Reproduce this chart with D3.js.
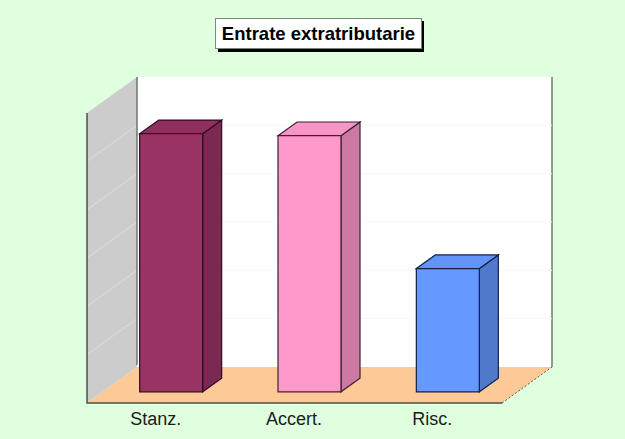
<!DOCTYPE html>
<html>
<head>
    <title>Entrate extratributarie</title>
    <script src="https://cdn.jsdelivr.net/npm/d3@7"></script>
    <style type="text/css">
        html, body { margin: 0; padding: 0; background: #dfffdf; }
        svg { display: block; }
    </style>
</head>
<body>
<div id="chart"></div>
<script type="text/javascript">
    var title = "Entrate extratributarie";
    var categories = ["Stanz.", "Accert.", "Risc."];
    var values = [53.4, 53.0, 25.5];
    var fronts = ["#993366", "#ff99cc", "#6699ff"];
    var sides = ["#7a2952", "#cc7aa3", "#527acc"];
    var tops = ["#8f2f5f", "#f795c6", "#6294f7"];
    var edges = ["#2e0c1e", "#3a2030", "#141f4d"];
    var gridTicks = [10, 20, 30, 40, 50];

    var width = 625, height = 439;
    var left = 87, right = 502, floorY = 403, topY = 113;
    var depthX = 50, depthY = -36;//wall offset
    var barWidth = 63, barNear = 0.31, barDepth = 0.38;//fractions of the floor depth

    var svg = d3.select('#chart').append('svg')
        .attr('width', width)
        .attr('height', height);

    var x = d3.scaleBand().domain(categories).range([left, right]);
    var y = d3.scaleLinear().domain([0, 60]).range([floorY, topY]);

    var path = function(pts) { return d3.line()(pts) + "Z"; };

    //back wall
    svg.append('path')
        .attr('d', path([[left + depthX, topY + depthY], [right + depthX, topY + depthY],
            [right + depthX, floorY + depthY], [left + depthX, floorY + depthY]]))
        .attr('fill', '#fff');
    svg.append('line')
        .attr('x1', right + depthX).attr('x2', right + depthX)
        .attr('y1', topY + depthY).attr('y2', floorY + depthY)
        .attr('stroke', '#5c665c').attr('stroke-width', 1.3);

    //left wall
    svg.append('path')
        .attr('d', path([[left, topY], [left + depthX, topY + depthY], [left + depthX, floorY + depthY], [left, floorY]]))
        .attr('fill', '#cccccc');

    //floor
    svg.append('path')
        .attr('d', path([[left, floorY], [left + depthX, floorY + depthY], [right + depthX, floorY + depthY], [right, floorY]]))
        .attr('fill', '#fcc997');

    //gridlines
    svg.selectAll('.grid-side').data(gridTicks).enter().append('line')
        .attr('class', 'grid-side')
        .attr('x1', left).attr('x2', left + depthX)
        .attr('y1', function(d) { return y(d); })
        .attr('y2', function(d) { return y(d) + depthY; })
        .attr('stroke', '#dedede').attr('stroke-width', 1);
    svg.selectAll('.grid-back').data(gridTicks).enter().append('line')
        .attr('class', 'grid-back')
        .attr('x1', left + depthX).attr('x2', right + depthX)
        .attr('y1', function(d) { return y(d) + depthY; })
        .attr('y2', function(d) { return y(d) + depthY; })
        .attr('stroke', '#fafafa').attr('stroke-width', 1);

    //axis frame
    svg.append('line').attr('x1', left + depthX).attr('x2', left + depthX)
        .attr('y1', topY + depthY).attr('y2', floorY + depthY - 2)
        .attr('stroke', '#5c665c').attr('stroke-width', 1.3);
    svg.append('path')
        .attr('d', d3.line()([[left, topY], [left, floorY], [right, floorY]]))
        .attr('fill', 'none').attr('stroke', '#4a504a').attr('stroke-width', 1.5);
    svg.append('line')
        .attr('x1', right).attr('y1', floorY)
        .attr('x2', right + depthX).attr('y2', floorY + depthY)
        .attr('stroke', '#555').attr('stroke-width', 1).attr('stroke-dasharray', '2,2');

    //bars
    var bars = svg.selectAll('.bar').data(categories).enter().append('g').attr('class', 'bar');
    var barLeft = function(d) { return x(d) + x.bandwidth() / 2 + barNear * depthX - 32; };
    var base = floorY + barNear * depthY;
    var rise = function(i) { return y(values[i]) - floorY; };
    var bx = barDepth * depthX, by = barDepth * depthY;

    bars.append('path')//side
        .attr('d', function(d, i) {
            var r = barLeft(d) + barWidth, t = base + rise(i);
            return path([[r, t], [r + bx, t + by], [r + bx, base + by], [r, base]]);
        })
        .attr('fill', function(d, i) { return sides[i]; })
        .attr('stroke', function(d, i) { return edges[i]; })
        .attr('stroke-width', 1.2);
    bars.append('path')//top
        .attr('d', function(d, i) {
            var l = barLeft(d), t = base + rise(i);
            return path([[l, t], [l + bx, t + by], [l + barWidth + bx, t + by], [l + barWidth, t]]);
        })
        .attr('fill', function(d, i) { return tops[i]; })
        .attr('stroke', function(d, i) { return edges[i]; })
        .attr('stroke-width', 1.2);
    bars.append('path')//front
        .attr('d', function(d, i) {
            var l = barLeft(d), t = base + rise(i);
            return path([[l, t], [l + barWidth, t], [l + barWidth, base], [l, base]]);
        })
        .attr('fill', function(d, i) { return fronts[i]; })
        .attr('stroke', function(d, i) { return edges[i]; })
        .attr('stroke-width', 1.2);

    //category labels
    svg.selectAll('.label').data(categories).enter().append('text')
        .attr('class', 'label')
        .attr('x', function(d) { return x(d) + x.bandwidth() / 2 - 0.5; })
        .attr('y', 425)
        .attr('text-anchor', 'middle')
        .attr('font-family', 'Liberation Sans, Arial, sans-serif')
        .attr('font-size', 18)
        .attr('fill', '#1a1a1a')
        .text(function(d) { return d; });

    //title box
    svg.append('rect').attr('x', 218).attr('y', 21).attr('width', 206).attr('height', 31).attr('fill', '#000');
    svg.append('rect').attr('x', 215.5).attr('y', 18.5).attr('width', 206).attr('height', 30)
        .attr('fill', '#fff').attr('stroke', '#7a8a7a');
    svg.append('text')
        .attr('x', 318.5).attr('y', 39.5)
        .attr('text-anchor', 'middle')
        .attr('font-family', 'Liberation Sans, Arial, sans-serif')
        .attr('font-size', 18.5)
        .attr('font-weight', 'bold')
        .attr('fill', '#000')
        .text(title);
</script>
</body>
</html>
